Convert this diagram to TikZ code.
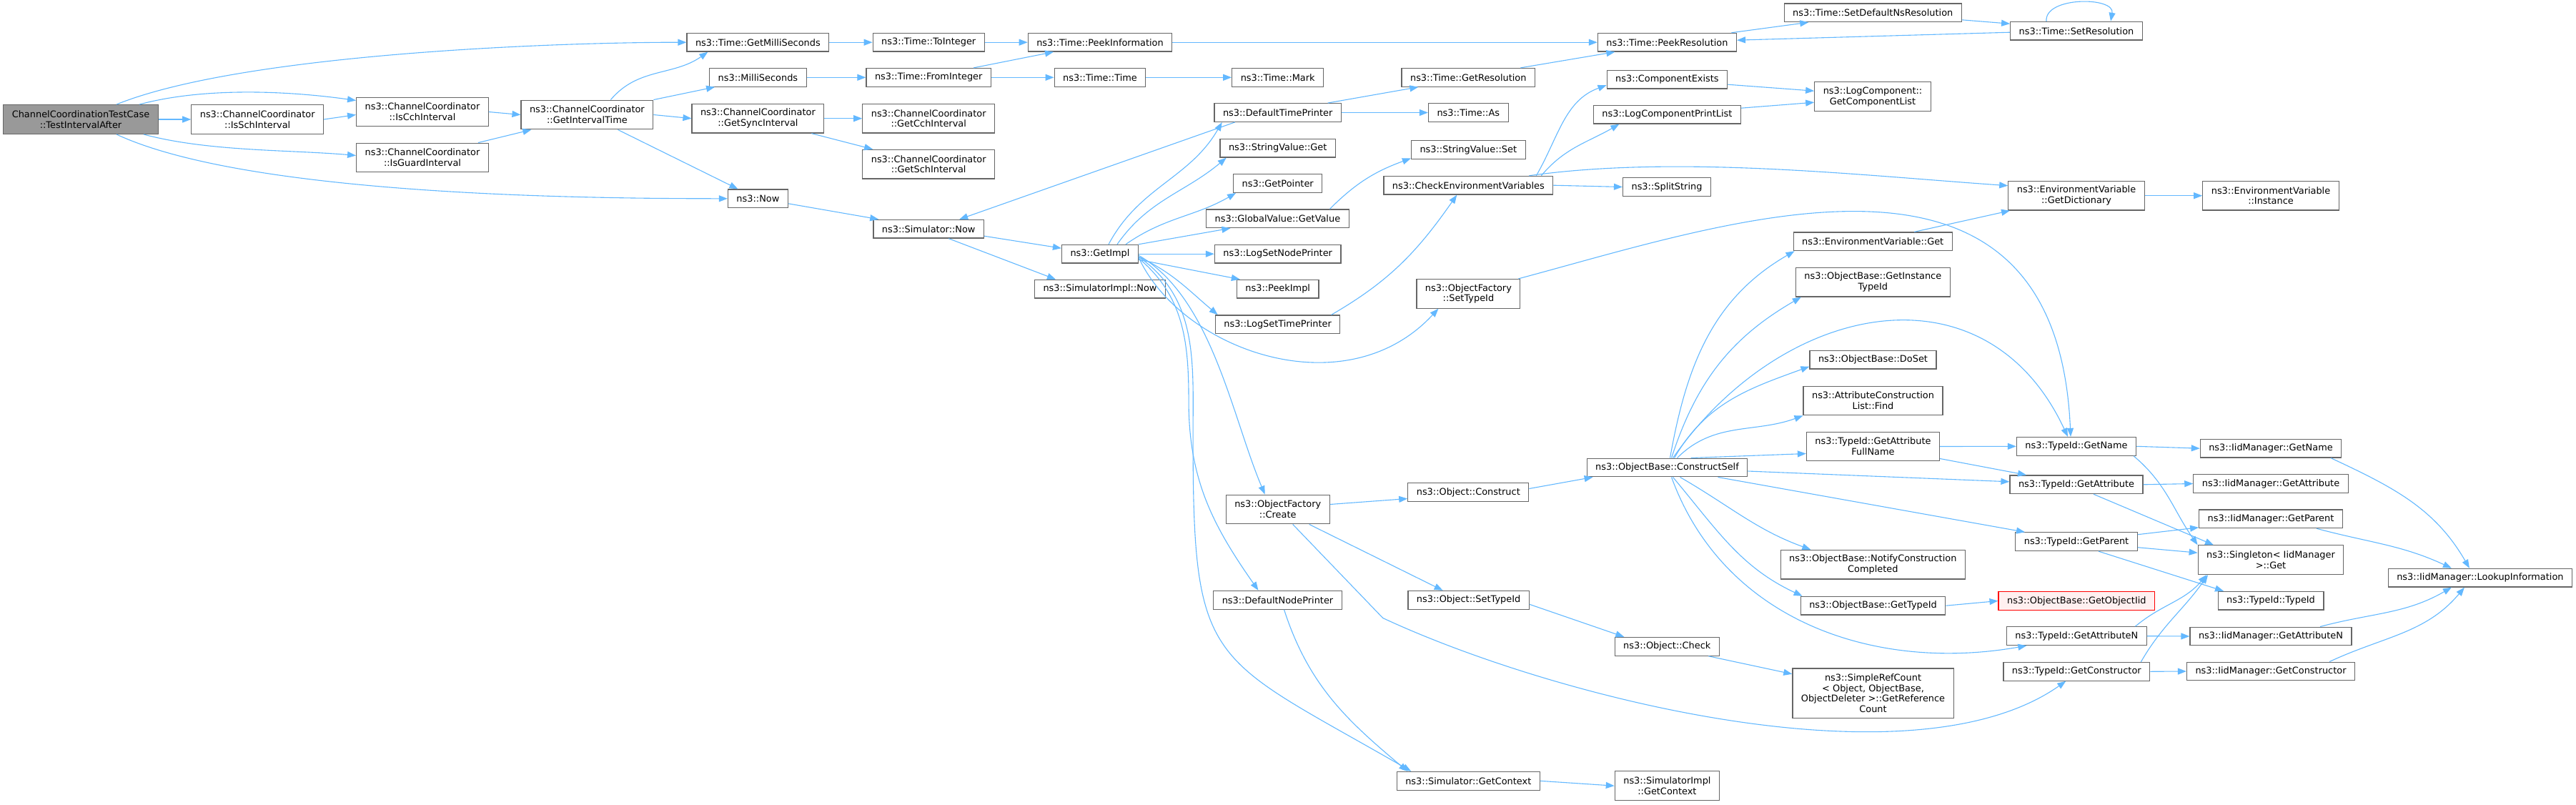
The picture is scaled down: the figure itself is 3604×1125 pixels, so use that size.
\documentclass[tikz,border=0pt]{standalone}
\usepackage{fontspec}
\setmainfont{DejaVu Sans}
\usetikzlibrary{arrows.meta}
\definecolor{edgeblue}{HTML}{63B8FF}
\definecolor{boxline}{HTML}{666666}
\definecolor{rootfill}{HTML}{999999}
\definecolor{missfill}{HTML}{FFF0F0}
\tikzstyle{fn}=[draw=boxline, fill=white, line width=1.2pt, inner xsep=12pt, inner ysep=1pt, minimum height=25.7pt, align=center, font=\fontsize{12.9}{14.7}\selectfont]
\tikzstyle{two}=[minimum height=40.7pt]
\tikzstyle{four}=[minimum height=69.7pt]
\tikzstyle{rootfn}=[fill=rootfill]
\tikzstyle{missfn}=[draw=red, fill=missfill]
\tikzstyle{arr}=[draw=edgeblue, line width=1.1pt, -{Triangle[length=12pt,width=9pt,fill=edgeblue]}]

\begin{document}
\begin{tikzpicture}[x=1pt, y=-1pt]
	\useasboundingbox (0,0) rectangle (3604,1125);

	\node[fn,two,rootfn] (tia) at (113,167) {ChannelCoordinationTestCase\\::TestIntervalAfter};
	\node[fn,two] (issch) at (360.2,167) {ns3::ChannelCoordinator\\::IsSchInterval};
	\node[fn,two] (iscch) at (591,156.5) {ns3::ChannelCoordinator\\::IsCchInterval};
	\node[fn,two] (isguard) at (591,220.5) {ns3::ChannelCoordinator\\::IsGuardInterval};
	\node[fn,two] (git) at (821.4,160.5) {ns3::ChannelCoordinator\\::GetIntervalTime};
	\node[fn] (gms) at (1060.4,59.2) {ns3::Time::GetMilliSeconds};
	\node[fn] (ms) at (1060.4,108.3) {ns3::MilliSeconds};
	\node[fn,two] (gsync) at (1060.4,165.7) {ns3::ChannelCoordinator\\::GetSyncInterval};
	\node[fn] (now) at (1060.4,277.8) {ns3::Now};
	\node[fn] (toint) at (1299.2,59.2) {ns3::Time::ToInteger};
	\node[fn] (fromint) at (1299.2,108.3) {ns3::Time::FromInteger};
	\node[fn,two] (gcch) at (1299.2,165.7) {ns3::ChannelCoordinator\\::GetCchInterval};
	\node[fn,two] (gsch) at (1299.2,229.7) {ns3::ChannelCoordinator\\::GetSchInterval};
	\node[fn] (simnow) at (1299.2,320.2) {ns3::Simulator::Now};
	\node[fn] (peekinfo) at (1539,59.2) {ns3::Time::PeekInformation};
	\node[fn] (ttime) at (1539,108.3) {ns3::Time::Time};
	\node[fn] (getimpl) at (1539,355.2) {ns3::GetImpl};
	\node[fn] (implnow) at (1539,404.2) {ns3::SimulatorImpl::Now};
	\node[fn] (mark) at (1787.7,108.3) {ns3::Time::Mark};
	\node[fn] (dtp) at (1787.7,157.5) {ns3::DefaultTimePrinter};
	\node[fn] (svget) at (1787.7,207.2) {ns3::StringValue::Get};
	\node[fn] (getptr) at (1787.7,256.5) {ns3::GetPointer};
	\node[fn] (gvget) at (1787.4,305.8) {ns3::GlobalValue::GetValue};
	\node[fn] (lsnp) at (1787.7,355.2) {ns3::LogSetNodePrinter};
	\node[fn] (peekimpl) at (1787.7,404.2) {ns3::PeekImpl};
	\node[fn] (lstp) at (1787.6,453.8) {ns3::LogSetTimePrinter};
	\node[fn,two] (ofcreate) at (1787.7,712.5) {ns3::ObjectFactory\\::Create};
	\node[fn] (dnp) at (1787.5,839.3) {ns3::DefaultNodePrinter};
	\node[fn] (getres) at (2054.3,108.3) {ns3::Time::GetResolution};
	\node[fn] (tas) at (2054.3,157.5) {ns3::Time::As};
	\node[fn] (svset) at (2054.3,209.5) {ns3::StringValue::Set};
	\node[fn] (cev) at (2054.3,259.2) {ns3::CheckEnvironmentVariables};
	\node[fn,two] (ofset) at (2054.4,410.8) {ns3::ObjectFactory\\::SetTypeId};
	\node[fn] (oconstruct) at (2054.3,688.5) {ns3::Object::Construct};
	\node[fn] (osettype) at (2054.6,839.3) {ns3::Object::SetTypeId};
	\node[fn] (simctx) at (2054.3,1092.3) {ns3::Simulator::GetContext};
	\node[fn] (peekres) at (2332.4,59.2) {ns3::Time::PeekResolution};
	\node[fn] (compex) at (2332.4,111.2) {ns3::ComponentExists};
	\node[fn] (lcpl) at (2332.4,160.2) {ns3::LogComponentPrintList};
	\node[fn] (split) at (2332,261.5) {ns3::SplitString};
	\node[fn] (cself) at (2332.5,654) {ns3::ObjectBase::ConstructSelf};
	\node[fn] (ocheck) at (2332.3,904.3) {ns3::Object::Check};
	\node[fn,two] (implctx) at (2332.4,1099.2) {ns3::SimulatorImpl\\::GetContext};
	\node[fn] (setdef) at (2620.2,17.8) {ns3::Time::SetDefaultNsResolution};
	\node[fn,two] (gcl) at (2620,135.2) {ns3::LogComponent::\\GetComponentList};
	\node[fn] (evget) at (2620.2,337.8) {ns3::EnvironmentVariable::Get};
	\node[fn,two] (ginst) at (2620.3,394.7) {ns3::ObjectBase::GetInstance\\TypeId};
	\node[fn] (doset) at (2620.5,503.2) {ns3::ObjectBase::DoSet};
	\node[fn,two] (acfind) at (2620.5,560.5) {ns3::AttributeConstruction\\List::Find};
	\node[fn,two] (gafn) at (2620.5,624.5) {ns3::TypeId::GetAttribute\\FullName};
	\node[fn,two] (notify) at (2620.3,789.7) {ns3::ObjectBase::NotifyConstruction\\Completed};
	\node[fn] (obgtid) at (2620.5,847.2) {ns3::ObjectBase::GetTypeId};
	\node[fn,four] (src) at (2620.5,969.8) {ns3::SimpleRefCount\\< Object, ObjectBase,\\ObjectDeleter >::GetReference\\Count};
	\node[fn] (setres) at (2905,43.2) {ns3::Time::SetResolution};
	\node[fn,two] (gdict) at (2905,273.7) {ns3::EnvironmentVariable\\::GetDictionary};
	\node[fn] (tgname) at (2905,624.3) {ns3::TypeId::GetName};
	\node[fn] (tgattr) at (2905,677.8) {ns3::TypeId::GetAttribute};
	\node[fn] (tgparent) at (2905,757.7) {ns3::TypeId::GetParent};
	\node[fn,missfn] (goiid) at (2905.3,840.5) {ns3::ObjectBase::GetObjectIid};
	\node[fn] (tgattrn) at (2905.3,889.7) {ns3::TypeId::GetAttributeN};
	\node[fn] (tgctor) at (2905.3,939.3) {ns3::TypeId::GetConstructor};
	\node[fn,two] (evinst) at (3177,273.7) {ns3::EnvironmentVariable\\::Instance};
	\node[fn] (igname) at (3177,627.2) {ns3::IidManager::GetName};
	\node[fn] (igattr) at (3177,676.5) {ns3::IidManager::GetAttribute};
	\node[fn] (igparent) at (3177,725.8) {ns3::IidManager::GetParent};
	\node[fn,two] (sget) at (3177,783.2) {ns3::Singleton< IidManager\\>::Get};
	\node[fn] (ttid) at (3177,840.2) {ns3::TypeId::TypeId};
	\node[fn] (igattrn) at (3177,890) {ns3::IidManager::GetAttributeN};
	\node[fn] (igctor) at (3177,939) {ns3::IidManager::GetConstructor};
	\node[fn] (lookup) at (3469.9,808.2) {ns3::IidManager::LookupInformation};

	\draw[arr] ([xshift=50pt]tia.north) to[out=22,in=180,looseness=0.6] (gms.west);
	\draw[arr] ([xshift=82pt]tia.north) to[out=15,in=172,looseness=0.8] ([yshift=16pt]iscch.west);
	\draw[arr] (tia.east) -- (issch.west);
	\draw[arr] ([xshift=88pt]tia.south) to[out=-15,in=175,looseness=0.8] ([yshift=3pt]isguard.west);
	\draw[arr] ([xshift=50pt]tia.south) to[out=-25,in=180,looseness=0.6] (now.west);
	\draw[arr] (issch.east) -- ([yshift=-4pt]iscch.west);
	\draw[arr] (iscch.east) -- (git.west);
	\draw[arr] ([xshift=78pt]isguard.north) -- ([xshift=-78pt]git.south);
	\draw[arr] ([xshift=33pt]git.north) to[out=50,in=-145] ([xshift=-70pt]gms.south);
	\draw[arr] (git.north east) -- ([xshift=8pt]ms.south west);
	\draw[arr] (git.east) -- (gsync.west);
	\draw[arr] ([xshift=43pt]git.south) -- ([xshift=-28pt]now.north);
	\draw[arr] (gms.east) -- (toint.west);
	\draw[arr] (toint.east) -- (peekinfo.west);
	\draw[arr] (peekinfo.east) -- (peekres.west);
	\draw[arr] (ms.east) -- (fromint.west);
	\draw[arr] ([xshift=63pt]fromint.north) -- ([xshift=-65pt]peekinfo.south);
	\draw[arr] (fromint.east) -- (ttime.west);
	\draw[arr] (ttime.east) -- (mark.west);
	\draw[arr] (gsync.east) -- (gcch.west);
	\draw[arr] ([xshift=75pt]gsync.south) -- ([xshift=-78pt]gsch.north);
	\draw[arr] ([yshift=-7pt]now.east) -- ([xshift=-70pt]simnow.north);
	\draw[arr] ([yshift=-10pt]simnow.east) -- ([yshift=8pt]getimpl.west);
	\draw[arr] ([xshift=28pt]simnow.south) -- ([xshift=-62pt]implnow.north);
	\draw[arr] ([xshift=-60pt]dtp.south) -- ([xshift=43pt]simnow.north);
	\draw[arr] ([xshift=70pt]dtp.north) -- ([xshift=-70pt]getres.south);
	\draw[arr] (dtp.east) -- (tas.west);
	\draw[arr] ([xshift=73pt]getres.north) -- ([xshift=-73pt]peekres.south);
	\draw[arr] ([xshift=90pt]peekres.north) -- ([xshift=-90pt]setdef.south);
	\draw[arr] ([yshift=-10pt]setdef.east) -- ([yshift=10pt]setres.west);
	\draw[arr] ([yshift=-2pt]setres.west) -- ([yshift=3pt]peekres.east);
	\draw[arr] ([xshift=-42pt]setres.north) to[out=95,in=80] ([xshift=48pt]setres.north);

	\draw[arr] ([xshift=12pt]getimpl.north) to[out=62,in=-120] ([xshift=-78pt]dtp.south);
	\draw[arr] ([xshift=24pt]getimpl.north) to[out=55,in=-140] ([xshift=-72pt]svget.south);
	\draw[arr] ([xshift=36pt]getimpl.north) to[out=35,in=-150] ([xshift=4pt]getptr.south west);
	\draw[arr] (getimpl.north east) -- ([xshift=-66pt]gvget.south);
	\draw[arr] (getimpl.east) -- (lsnp.west);
	\draw[arr] ([yshift=-8pt]getimpl.east) -- ([xshift=5pt]peekimpl.north west);
	\draw[arr] ([yshift=-4pt]getimpl.east) to[out=-25,in=140] ([xshift=4pt]lstp.north west);
	\draw[arr] ([yshift=-5pt]getimpl.east) .. controls +(60,130) and +(-130,140) .. ([xshift=-42pt]ofset.south);
	\draw[arr] ([yshift=-2pt]getimpl.east) to[out=-30,in=113,looseness=0.8] ([xshift=-18pt]ofcreate.north);
	\draw[arr] ([yshift=-6pt]getimpl.east) to[out=-40,in=90] ++(70,200) to[out=-90,in=125] ([xshift=-27pt]dnp.north);
	\draw[arr] ([yshift=-4pt]getimpl.east) to[out=-35,in=90] ++(76,250) to[out=-90,in=150,looseness=1.5] ([xshift=-80pt]simctx.north);

	\draw[arr] ([xshift=73pt]gvget.north) to[out=45,in=-160] ([yshift=-12pt]svset.west);
	\draw[arr] ([xshift=75pt]lstp.north) to[out=30,in=-125] ([xshift=-16pt]cev.south);
	\draw[arr] ([xshift=95pt]cev.north) to[out=60,in=-160] ([yshift=-8pt]compex.west);
	\draw[arr] ([xshift=102pt]cev.north) to[out=50,in=-150] ([xshift=-67pt]lcpl.south);
	\draw[arr] (cev.east) -- (split.west);
	\draw[arr] ([xshift=85pt]cev.north) to[out=8,in=176,looseness=0.8] ([yshift=14pt]gdict.west);
	\draw[arr] ([yshift=-7pt]compex.east) -- ([yshift=8pt]gcl.west);
	\draw[arr] ([yshift=9pt]lcpl.east) -- ([yshift=-8pt]gcl.west);
	\draw[arr] (gdict.east) -- (evinst.west);
	\draw[arr] ([xshift=58pt]evget.north) -- ([xshift=-93pt]gdict.south);
	\draw[arr] ([xshift=70pt]ofset.north) .. controls +(300,-80) and +(-20,-461) .. ([xshift=-8pt]tgname.north);

	\draw[arr] ([yshift=7pt]ofcreate.east) -- ([yshift=-9pt]oconstruct.west);
	\draw[arr] ([xshift=44pt]ofcreate.south) -- ([xshift=-36pt]osettype.north);
	\draw[arr] ([xshift=21pt]ofcreate.south) -- ++(126,131) to[out=-25,in=-145,looseness=0.7] ([xshift=-15pt]tgctor.south);
	\draw[arr] ([xshift=9pt]dnp.south) to[out=-72,in=140] ([xshift=-85pt]simctx.north);
	\draw[arr] (simctx.east) -- (implctx.west);
	\draw[arr] ([yshift=5pt]oconstruct.east) -- ([xshift=9pt]cself.south west);
	\draw[arr] ([yshift=-6pt]osettype.east) -- ([xshift=-60pt]ocheck.north);
	\draw[arr] ([xshift=58pt]ocheck.south) -- ([yshift=27pt]src.west);

	\draw[arr] ([xshift=4pt]cself.north) to[out=80,in=-150] ([xshift=2pt]evget.south west);
	\draw[arr] ([xshift=6pt]cself.north) to[out=72,in=-150] ([xshift=8pt]ginst.south west);
	\draw[arr] ([xshift=8pt]cself.north) to[out=55,in=115,looseness=1.25] ([xshift=-12pt]tgname.north);
	\draw[arr] ([xshift=10pt]cself.north) to[out=60,in=-160] ([yshift=4pt]doset.south west);
	\draw[arr] ([xshift=14pt]cself.north) to[out=45,in=-160] (acfind.south west);
	\draw[arr] ([xshift=33pt]cself.north) -- ([yshift=-10pt]gafn.west);
	\draw[arr] ([yshift=-5pt]cself.east) -- ([yshift=4pt]tgattr.west);
	\draw[arr] ([xshift=71pt]cself.south) -- ([xshift=-72pt]tgparent.north);
	\draw[arr] ([xshift=18pt]cself.south) to[out=-30,in=160] ([xshift=-87pt]notify.north);
	\draw[arr] ([xshift=8pt]cself.south) to[out=-50,in=155] ([xshift=3pt]obgtid.north west);
	\draw[arr] ([xshift=6pt]cself.south) to[out=-70,in=-170] ([xshift=-70pt]tgattrn.south);

	\draw[arr] (obgtid.east) -- (goiid.west);
	\draw[arr] (gafn.east) -- (tgname.west);
	\draw[arr] ([yshift=-17pt]gafn.east) -- ([xshift=-70pt]tgattr.north);
	\draw[arr] (tgname.east) -- (igname.west);
	\draw[arr] ([xshift=80pt]tgname.south) to[out=-40,in=125] (sget.north west);
	\draw[arr] (tgattr.east) -- (igattr.west);
	\draw[arr] ([xshift=24pt]tgattr.south) -- ([xshift=-80pt]sget.north);
	\draw[arr] ([yshift=10pt]tgparent.east) -- ([yshift=-12pt]igparent.west);
	\draw[arr] ([yshift=-8pt]tgparent.east) -- ([yshift=10pt]sget.west);
	\draw[arr] ([xshift=31pt]tgparent.south) -- ([xshift=-66pt]ttid.north);
	\draw[arr] ([xshift=82pt]tgattrn.north) to[out=40,in=-130] ([xshift=-90pt]sget.south);
	\draw[arr] (tgattrn.east) -- (igattrn.west);
	\draw[arr] ([xshift=90pt]tgctor.north) to[out=60,in=-125] ([xshift=-88pt]sget.south);
	\draw[arr] (tgctor.east) -- (igctor.west);
	\draw[arr] ([xshift=84pt]igname.south) to[out=-25,in=120] ([xshift=-15pt]lookup.north);
	\draw[arr] ([xshift=64pt]igparent.south) to[out=-15,in=155] ([xshift=-40pt]lookup.north);
	\draw[arr] ([xshift=69pt]igattrn.north) to[out=15,in=-150] ([xshift=-40pt]lookup.south);
	\draw[arr] ([xshift=82pt]igctor.north) to[out=25,in=-130] ([xshift=-22pt]lookup.south);
\end{tikzpicture}
\end{document}
